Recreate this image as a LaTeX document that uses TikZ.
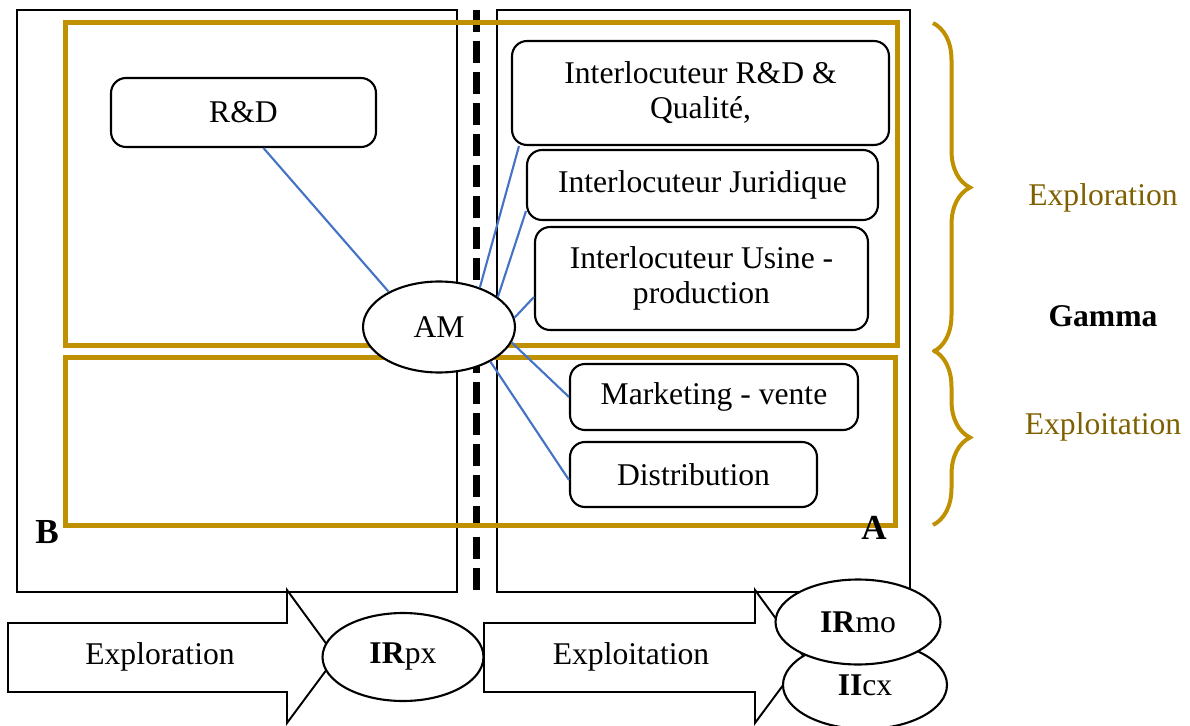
\documentclass[tikz,border=0pt]{standalone}
\usepackage{fontspec}
\setmainfont{Liberation Serif}
\usetikzlibrary{shapes.geometric,decorations.pathreplacing}
\definecolor{gold}{RGB}{191,144,0}
\definecolor{darkgold}{RGB}{127,96,0}
\definecolor{linkblue}{RGB}{68,114,196}

\begin{document}
\begin{tikzpicture}[x=0.02cm, y=-0.02cm,
  every node/.style={font=\fontsize{18}{20}\selectfont},
  box/.style={draw, line width=1.2pt, rounded corners=0.3cm, fill=white, align=center, inner sep=0pt},
  actor/.style={draw, ellipse, line width=1.2pt, fill=white, inner sep=0pt},
  link/.style={draw=linkblue, line width=1.2pt},
  frame/.style={draw=gold, line width=0.1cm},
  panel/.style={draw, line width=1.1pt},
  bold/.style={font=\fontsize{18}{20}\selectfont\bfseries}]

\useasboundingbox (0,0) rectangle (1190,726);

% Panels B and A
\draw[panel] (17,10) rectangle (457,592);
\draw[panel] (497,10) rectangle (910,592);
\draw[line width=0.14cm, dash pattern=on 0.44cm off 0.18cm] (476,10) -- (476,592);

% Exploration / exploitation frames
\draw[frame] (65,23) rectangle (897,345);
\draw[frame] (65,357) rectangle (895,525);

% Actors
\node[box, minimum width=5.3cm, minimum height=1.38cm] (rd) at (243.5,112.5) {R\&D};
\node[box, minimum width=7.54cm, minimum height=2.08cm] (qual) at (700.5,93) {Interlocuteur R\&D \&\\Qualité,};
\node[box, minimum width=7.02cm, minimum height=1.4cm] (jur) at (702.5,185) {Interlocuteur Juridique};
\node[box, minimum width=6.66cm, minimum height=2.06cm] (usine) at (701.5,278.5) {Interlocuteur Usine -\\production};
\node[box, minimum width=5.76cm, minimum height=1.32cm] (mkt) at (714,397) {Marketing - vente};
\node[box, minimum width=4.94cm, minimum height=1.3cm] (dist) at (693.5,474.5) {Distribution};
\node[actor, minimum width=3.04cm, minimum height=1.82cm] (am) at (439,327) {AM};

% Links
\draw[link] (am.145) -- ([xshift=0.4cm]rd.south);
\draw[link] (am.44) -- ([xshift=0.16cm]qual.south west);
\draw[link] (am.27) -- ([yshift=0.2cm]jur.south west);
\draw[link] (am.7) -- ([yshift=-0.37cm]usine.west);
\draw[link] (am.-12) -- (mkt.west);
\draw[link] (am.-34) -- ([yshift=-0.11cm]dist.west);

\node[font=\fontsize{20}{24}\selectfont\bfseries] (lblB) at (47,532) {B};
\node[font=\fontsize{20}{24}\selectfont\bfseries] (lblA) at (874,528) {A};

% Braces
\draw[gold, line width=0.08cm, decorate, decoration={brace, amplitude=0.74cm}] (933,23) -- (933,352);
\draw[gold, line width=0.08cm, decorate, decoration={brace, amplitude=0.74cm}] (933,350) -- (933,525);
\node[text=darkgold] (explo) at (1103,198) {Exploration};
\node[bold] (gamma) at (1103,316) {Gamma};
\node[text=darkgold] (exploi) at (1103,427) {Exploitation};

% Bottom arrows
\draw[panel, fill=white] (8,623) -- (287,623) -- (287,590) -- (336,657) -- (287,723) -- (287,692) -- (8,692) -- cycle;
\draw[panel, fill=white] (484,623) -- (755,623) -- (755,590) -- (804,657) -- (755,723) -- (755,692) -- (484,692) -- cycle;
\node (arrL) at (160,657) {Exploration};
\node (arrR) at (631,657) {Exploitation};

\node[actor, minimum width=3.22cm, minimum height=1.76cm] (irpx) at (403,657) {\textbf{IR}px};
\node[actor, minimum width=3.28cm, minimum height=1.76cm] (iicx) at (865,685) {\textbf{II}cx};
\node[actor, minimum width=3.3cm, minimum height=1.7cm] (irmo) at (858,622) {\textbf{IR}mo};

\end{tikzpicture}
\end{document}
